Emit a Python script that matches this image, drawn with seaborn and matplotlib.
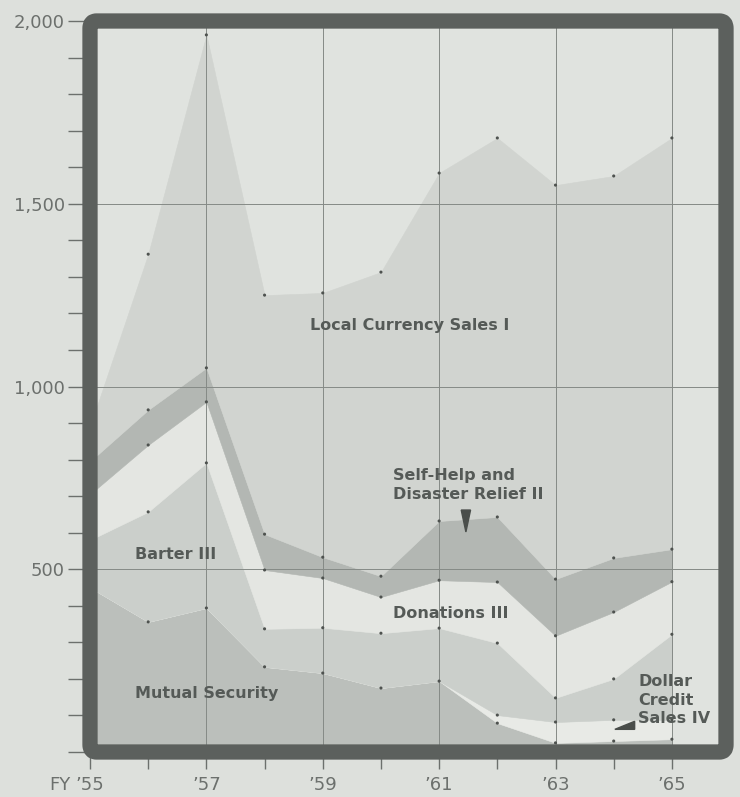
import numpy as np
import pandas as pd
import matplotlib
matplotlib.use("Agg")
import matplotlib.pyplot as plt
from matplotlib.patches import FancyBboxPatch, Polygon
from matplotlib.ticker import MultipleLocator, FixedLocator
import seaborn as sns

# data (millions of dollars, FY 1955-1965), bottom layer first
years = [1955, 1956, 1957, 1958, 1959, 1960, 1961, 1962, 1963, 1964, 1965]
mutual_security = [450, 356, 394, 233, 216, 175, 194, 79, 25, 30, 35]
dollar_credit = [0, 0, 0, 0, 0, 0, 0, 22, 57, 58, 53]
barter = [130, 301, 397, 104, 124, 150, 145, 197, 66, 112, 234]
donations = [125, 183, 167, 161, 136, 99, 131, 167, 170, 183, 144]
self_help = [90, 96, 93, 98, 57, 57, 162, 178, 155, 148, 89]
local_currency = [95, 426, 911, 654, 723, 832, 952, 1037, 1078, 1045, 1125]

series_names = ["Mutual Security", "Dollar Credit", "Barter", "Donations",
                "Self-Help", "Local Currency"]
x_tick_years = [1955, 1957, 1959, 1961, 1963, 1965]
x_tick_labels = ["\u201955", "\u201957", "\u201959", "\u201961", "\u201963", "\u201965"]
y_tick_values = [500, 1000, 1500, 2000]
y_tick_labels = ["500", "1,000", "1,500", "2,000"]

# colours
paper = "#dde0dc"
inner = "#e0e3df"
frame_col = "#5c605d"
text_col = "#555a57"
tick_col = "#6c706d"
colors = ["#bbbfbb", "#e8eae6", "#cbcfcb", "#e4e6e2", "#b3b7b3", "#d1d4d0"]

sns.set_style("white")
plt.rcParams["font.family"] = ["DejaVu Sans"]

fig = plt.figure(figsize=(7.4, 7.97), dpi=100, facecolor=paper)
ax = fig.add_axes([90 / 740, 45 / 797, 636 / 740, 731 / 797])
ax.set_facecolor(inner)

stack = [mutual_security, dollar_credit, barter, donations, self_help, local_currency]
ax.stackplot(years, *stack, colors=colors, linewidth=0.4, edgecolor="face", zorder=1)

# small dots at the vertices of each boundary
cum = np.cumsum(np.array(stack), axis=0)
rows = []
for i, name in enumerate(series_names):
    for j, yr in enumerate(years):
        if stack[i][j] > 0:
            rows.append({"year": yr, "value": cum[i, j], "series": name})
dots = pd.DataFrame(rows)
sns.scatterplot(data=dots, x="year", y="value", ax=ax, s=5, color="#4e524f",
                edgecolor="none", legend=False, zorder=3)

ax.set_xlim(1955, 1965.93)
ax.set_ylim(0, 2000)
ax.set_xlabel("")
ax.set_ylabel("")

ax.xaxis.set_major_locator(FixedLocator(x_tick_years))
ax.xaxis.set_minor_locator(MultipleLocator(1))
ax.set_xticks(x_tick_years)
ax.set_xticklabels(x_tick_labels)
ax.yaxis.set_minor_locator(MultipleLocator(100))
ax.set_yticks(y_tick_values)
ax.set_yticklabels(y_tick_labels)

ax.tick_params(axis="y", which="both", direction="out", length=16, width=1,
               color=tick_col, pad=2, labelsize=13, labelcolor=tick_col, left=True)
ax.tick_params(axis="x", which="both", direction="out", length=12, width=1,
               color=tick_col, pad=5, labelsize=13, labelcolor=tick_col, bottom=True)

ax.grid(True, which="major", color="#858a86", linewidth=0.7)
ax.set_axisbelow(False)
for s in ax.spines.values():
    s.set_visible(False)

# "FY" prefix to the left of the first year label
ax.annotate("FY", xy=(1955, 0), xycoords="data", xytext=(-14, -17),
            textcoords="offset points", ha="right", va="top",
            fontsize=13, color=tick_col, annotation_clip=False)

# frame
frame = FancyBboxPatch((0, 0), 1, 1, boxstyle="round,pad=0,rounding_size=0.01",
                       transform=ax.transAxes, fill=False, linewidth=11,
                       edgecolor=frame_col, clip_on=False, zorder=10,
                       joinstyle="round")
ax.add_patch(frame)

# labels
lab = dict(fontsize=11.5, fontweight="bold", color=text_col, zorder=5)
ax.text(1958.78, 1166, "Local Currency Sales I", ha="left", va="center", **lab)
ax.text(1955.77, 539, "Barter III", ha="left", va="center", **lab)
ax.text(1955.77, 159, "Mutual Security", ha="left", va="center", **lab)
ax.text(1960.21, 380, "Donations III", ha="left", va="center", **lab)
ax.text(1960.21, 730, "Self-Help and\nDisaster Relief II", ha="left", va="center",
        linespacing=1.3, **lab)
ax.text(1964.42, 142, "Dollar\nCredit\nSales IV", ha="left", va="center",
        linespacing=1.3, **lab)

# pointer wedges
ax.add_patch(Polygon([[1961.38, 662], [1961.54, 662], [1961.46, 602]],
                     closed=True, color="#4a4e4b", zorder=5))
ax.add_patch(Polygon([[1964.02, 62], [1964.36, 84], [1964.36, 62]],
                     closed=True, color="#4a4e4b", zorder=5))

fig.savefig("out.png", dpi=100, facecolor=paper)
